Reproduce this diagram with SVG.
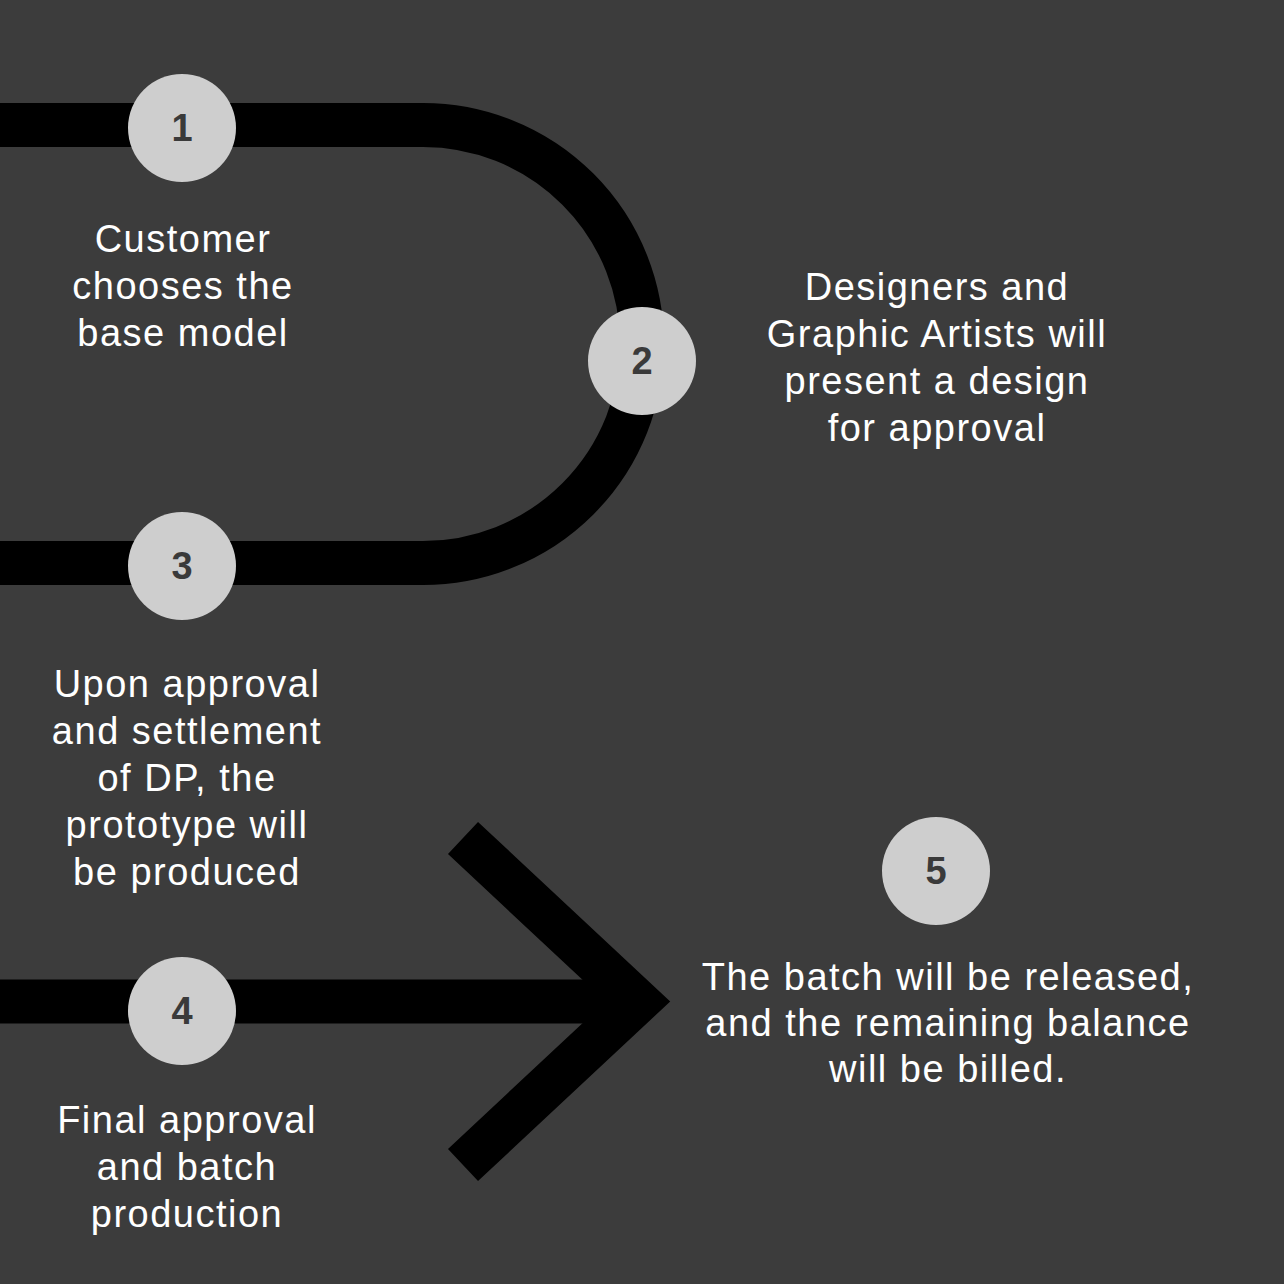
<svg xmlns="http://www.w3.org/2000/svg" width="1284" height="1284" viewBox="0 0 1284 1284">
<style>
.track{fill:none;stroke:#000;stroke-width:44}
.dot{fill:#cecece}
.num{font-family:"Liberation Sans",Arial,sans-serif;font-weight:bold;font-size:38px;fill:#3a3a3a;text-anchor:middle}
.lbl{font-family:"Liberation Sans",Arial,sans-serif;font-size:38px;fill:#fff;text-anchor:middle;letter-spacing:1.5px}
</style>
<rect width="1284" height="1284" fill="#3c3c3c"/>
<g id="connectors">
<path class="track" d="M0,125 H423 A219,219 0 0 1 423,563 H0"/>
<path class="track" d="M0,1001.5 H630"/>
<polyline class="track" points="463,838 638,1001.5 463,1165" stroke-linejoin="miter" stroke-miterlimit="10"/>
</g>
<g id="node1">
<circle class="dot" cx="182" cy="128" r="54"/>
<text class="num" x="182" y="141">1</text>
<text class="lbl" x="183" y="252">Customer</text>
<text class="lbl" x="183" y="299">chooses the</text>
<text class="lbl" x="183" y="346">base model</text>
</g>
<g id="node2">
<circle class="dot" cx="642" cy="361" r="54"/>
<text class="num" x="642" y="374">2</text>
<text class="lbl" x="937" y="300">Designers and</text>
<text class="lbl" x="937" y="347">Graphic Artists will</text>
<text class="lbl" x="937" y="394">present a design</text>
<text class="lbl" x="937" y="441">for approval</text>
</g>
<g id="node3">
<circle class="dot" cx="182" cy="566" r="54"/>
<text class="num" x="182" y="579">3</text>
<text class="lbl" x="187" y="697">Upon approval</text>
<text class="lbl" x="187" y="744">and settlement</text>
<text class="lbl" x="187" y="791">of DP, the</text>
<text class="lbl" x="187" y="838">prototype will</text>
<text class="lbl" x="187" y="885">be produced</text>
</g>
<g id="node4">
<circle class="dot" cx="182" cy="1011" r="54"/>
<text class="num" x="182" y="1024">4</text>
<text class="lbl" x="187" y="1133">Final approval</text>
<text class="lbl" x="187" y="1180">and batch</text>
<text class="lbl" x="187" y="1227">production</text>
</g>
<g id="node5">
<circle class="dot" cx="936" cy="871" r="54"/>
<text class="num" x="936" y="884">5</text>
<text class="lbl" x="948" y="990">The batch will be released,</text>
<text class="lbl" x="948" y="1036">and the remaining balance</text>
<text class="lbl" x="948" y="1082">will be billed.</text>
</g>
</svg>
